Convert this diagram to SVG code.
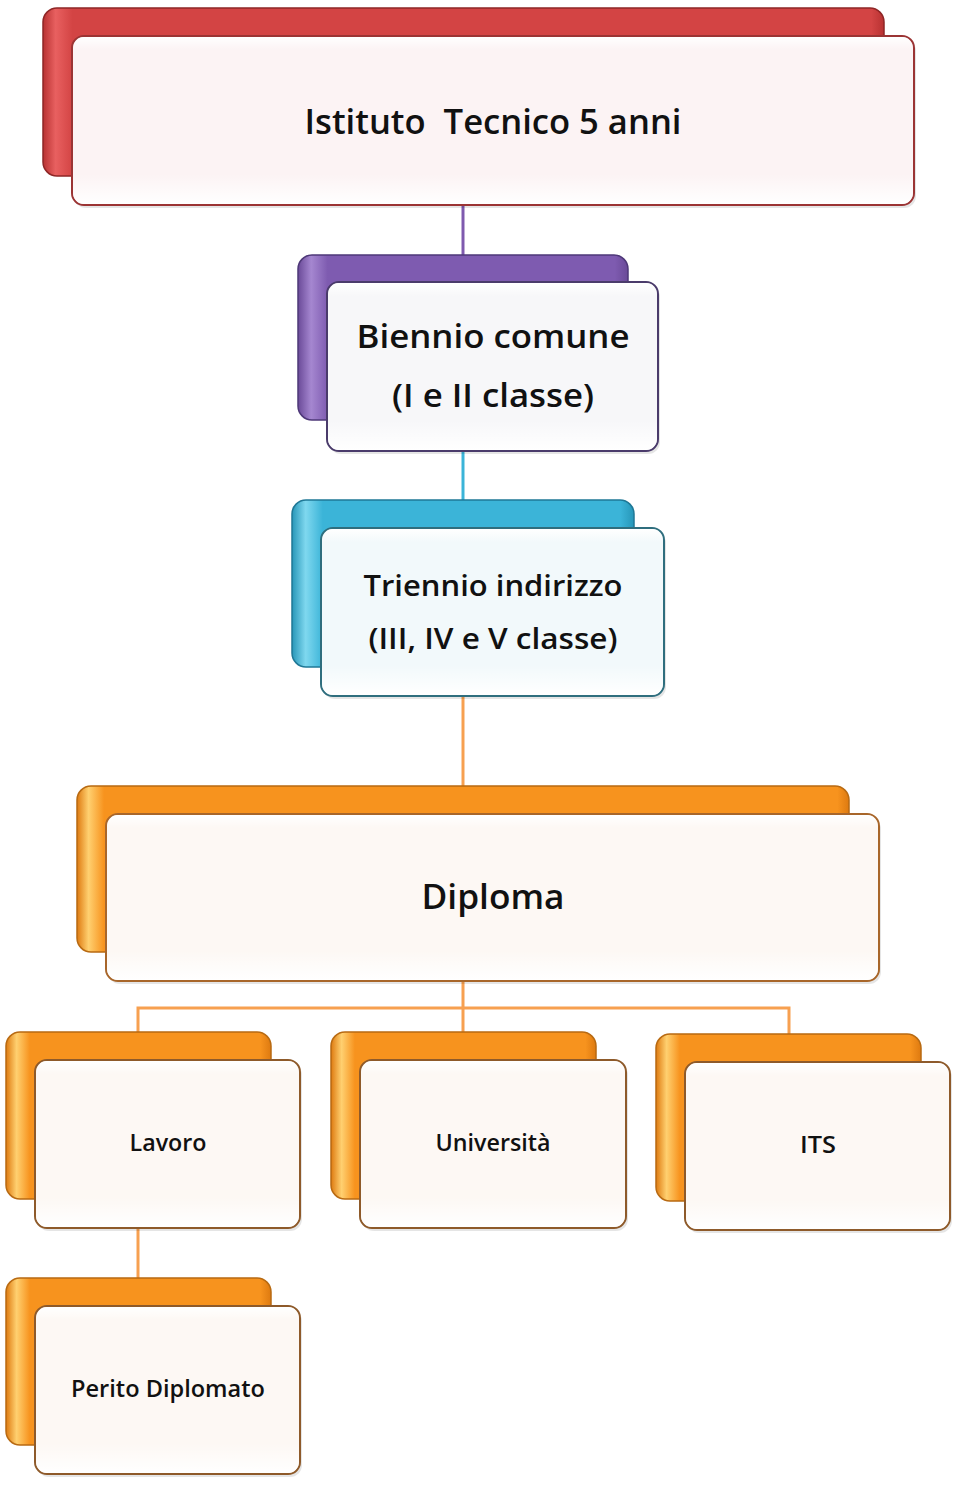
<svg xmlns="http://www.w3.org/2000/svg" width="960" height="1486" viewBox="0 0 960 1486">
<style>
.t{font-family:"Open Sans","DejaVu Sans",sans-serif;font-weight:600;fill:#111;text-anchor:middle;white-space:pre}
.big{font-size:35px}
.mid{font-size:32px}
.sm{font-size:23px}
.rim{stroke-width:2}
.shadow{fill:#000;opacity:0.10}
</style>
<defs>
<linearGradient id="gRed" x1="0" y1="0" x2="1" y2="0"><stop offset="0" stop-color="#b83232"/><stop offset="0.03" stop-color="#e86060"/><stop offset="0.06" stop-color="#d34444"/><stop offset="0.97" stop-color="#d34444"/><stop offset="1" stop-color="#b83232"/></linearGradient>
<linearGradient id="gPur" x1="0" y1="0" x2="1" y2="0"><stop offset="0" stop-color="#6a4a98"/><stop offset="0.04" stop-color="#a587d0"/><stop offset="0.09" stop-color="#7e5bb0"/><stop offset="0.96" stop-color="#7e5bb0"/><stop offset="1" stop-color="#6a4a98"/></linearGradient>
<linearGradient id="gCya" x1="0" y1="0" x2="1" y2="0"><stop offset="0" stop-color="#2796b8"/><stop offset="0.04" stop-color="#7fd8ef"/><stop offset="0.09" stop-color="#3bb4d8"/><stop offset="0.96" stop-color="#3bb4d8"/><stop offset="1" stop-color="#2796b8"/></linearGradient>
<linearGradient id="gOr" x1="0" y1="0" x2="1" y2="0"><stop offset="0" stop-color="#de7a10"/><stop offset="0.04" stop-color="#ffd070"/><stop offset="0.09" stop-color="#f7931e"/><stop offset="0.96" stop-color="#f7931e"/><stop offset="1" stop-color="#de7a10"/></linearGradient>
<linearGradient id="gOrW" x1="0" y1="0" x2="1" y2="0"><stop offset="0" stop-color="#de7a10"/><stop offset="0.015" stop-color="#ffd070"/><stop offset="0.035" stop-color="#f7931e"/><stop offset="0.985" stop-color="#f7931e"/><stop offset="1" stop-color="#de7a10"/></linearGradient>
<linearGradient id="gRedW" x1="0" y1="0" x2="1" y2="0"><stop offset="0" stop-color="#b83232"/><stop offset="0.015" stop-color="#e86060"/><stop offset="0.035" stop-color="#d34444"/><stop offset="0.985" stop-color="#d34444"/><stop offset="1" stop-color="#b83232"/></linearGradient>
<linearGradient id="gFront" x1="0" y1="0" x2="0" y2="1"><stop offset="0" stop-color="#ffffff"/><stop offset="0.08" stop-color="#ffffff" stop-opacity="0"/><stop offset="0.82" stop-color="#ffffff" stop-opacity="0"/><stop offset="1" stop-color="#ffffff"/></linearGradient>
</defs>

<g id="connectors" fill="none" stroke-width="3">
<line x1="463" y1="205" x2="463" y2="256" stroke="#7f5aae"/>
<line x1="463" y1="451" x2="463" y2="501" stroke="#3bb4d8"/>
<line x1="463" y1="696" x2="463" y2="787" stroke="#f7a050"/>
<path d="M463 981 V1008 M138 1032 V1008 H789 V1034 M463 1008 V1033" stroke="#f7a050"/>
<line x1="138" y1="1228" x2="138" y2="1279" stroke="#f7a050"/>
</g>

<g id="node-istituto">
<rect x="43" y="8" width="841" height="168" rx="14" fill="url(#gRedW)" stroke="#8e2626" stroke-width="1.5"/>
<rect x="74" y="39" width="842" height="169" rx="12" class="shadow"/>
<rect x="72" y="36" width="842" height="169" rx="12" class="rim" fill="#fcf3f4" stroke="#9b3434"/>
<rect x="73" y="37" width="840" height="167" rx="11" fill="url(#gFront)"/>
<text x="493" y="134" class="t big" textLength="377" lengthAdjust="spacingAndGlyphs" xml:space="preserve">Istituto  Tecnico 5 anni</text>
</g>

<g id="node-biennio">
<rect x="298" y="255" width="330" height="165" rx="14" fill="url(#gPur)" stroke="#4e3878" stroke-width="1.5"/>
<rect x="329" y="285" width="331" height="169" rx="12" class="shadow"/>
<rect x="327" y="282" width="331" height="169" rx="12" class="rim" fill="#f7f7f9" stroke="#4a3b6b"/>
<rect x="328" y="283" width="329" height="167" rx="11" fill="url(#gFront)"/>
<text x="493" y="348" class="t mid" textLength="273" lengthAdjust="spacingAndGlyphs">Biennio comune</text>
<text x="493" y="407" class="t mid" textLength="202" lengthAdjust="spacingAndGlyphs">(I e II classe)</text>
</g>

<g id="node-triennio">
<rect x="292" y="500" width="342" height="167" rx="14" fill="url(#gCya)" stroke="#1f7896" stroke-width="1.5"/>
<rect x="323" y="531" width="343" height="168" rx="12" class="shadow"/>
<rect x="321" y="528" width="343" height="168" rx="12" class="rim" fill="#f2f9fb" stroke="#2f6e7e"/>
<rect x="322" y="529" width="341" height="166" rx="11" fill="url(#gFront)"/>
<text x="493" y="596" class="t" style="font-size:29px" textLength="259" lengthAdjust="spacingAndGlyphs">Triennio indirizzo</text>
<text x="493" y="649" class="t" style="font-size:29px" textLength="249" lengthAdjust="spacingAndGlyphs">(III, IV e V classe)</text>
</g>

<g id="node-diploma">
<rect x="77" y="786" width="772" height="166" rx="14" fill="url(#gOrW)" stroke="#b86a12" stroke-width="1.5"/>
<rect x="108" y="817" width="773" height="167" rx="12" class="shadow"/>
<rect x="106" y="814" width="773" height="167" rx="12" class="rim" fill="#fdf8f4" stroke="#a8662a"/>
<rect x="107" y="815" width="771" height="165" rx="11" fill="url(#gFront)"/>
<text x="493" y="909" class="t big" textLength="143" lengthAdjust="spacingAndGlyphs">Diploma</text>
</g>

<g id="node-lavoro">
<rect x="6" y="1032" width="265" height="167" rx="14" fill="url(#gOr)" stroke="#b86a12" stroke-width="1.5"/>
<rect x="37" y="1063" width="265" height="168" rx="12" class="shadow"/>
<rect x="35" y="1060" width="265" height="168" rx="12" class="rim" fill="#fdf8f4" stroke="#8e5a2a"/>
<rect x="36" y="1061" width="263" height="166" rx="11" fill="url(#gFront)"/>
<text x="168" y="1151" class="t sm" textLength="77" lengthAdjust="spacingAndGlyphs">Lavoro</text>
</g>

<g id="node-universita">
<rect x="331" y="1032" width="265" height="167" rx="14" fill="url(#gOr)" stroke="#b86a12" stroke-width="1.5"/>
<rect x="362" y="1063" width="266" height="168" rx="12" class="shadow"/>
<rect x="360" y="1060" width="266" height="168" rx="12" class="rim" fill="#fdf8f4" stroke="#8e5a2a"/>
<rect x="361" y="1061" width="264" height="166" rx="11" fill="url(#gFront)"/>
<text x="493" y="1151" class="t sm" textLength="115" lengthAdjust="spacingAndGlyphs">Università</text>
</g>

<g id="node-its">
<rect x="656" y="1034" width="265" height="167" rx="14" fill="url(#gOr)" stroke="#b86a12" stroke-width="1.5"/>
<rect x="687" y="1065" width="265" height="168" rx="12" class="shadow"/>
<rect x="685" y="1062" width="265" height="168" rx="12" class="rim" fill="#fdf8f4" stroke="#8e5a2a"/>
<rect x="686" y="1063" width="263" height="166" rx="11" fill="url(#gFront)"/>
<text x="818" y="1153" class="t sm" textLength="36" lengthAdjust="spacingAndGlyphs">ITS</text>
</g>

<g id="node-perito">
<rect x="6" y="1278" width="265" height="167" rx="14" fill="url(#gOr)" stroke="#b86a12" stroke-width="1.5"/>
<rect x="37" y="1309" width="265" height="168" rx="12" class="shadow"/>
<rect x="35" y="1306" width="265" height="168" rx="12" class="rim" fill="#fdf8f4" stroke="#8e5a2a"/>
<rect x="36" y="1307" width="263" height="166" rx="11" fill="url(#gFront)"/>
<text x="168" y="1397" class="t sm" textLength="194" lengthAdjust="spacingAndGlyphs">Perito Diplomato</text>
</g>
</svg>
